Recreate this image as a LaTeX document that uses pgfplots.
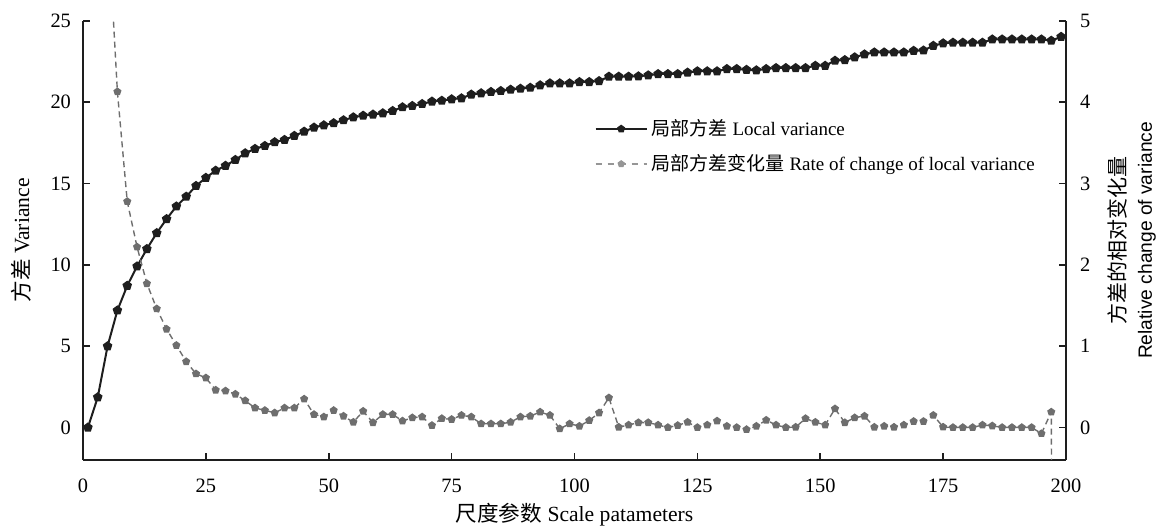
\documentclass[border=0pt]{standalone}
\usepackage{fontspec}
\setmainfont{Liberation Serif}
\setsansfont{Liberation Sans}
\newfontfamily\cjk{Noto Sans CJK SC}
\usepackage{pgfplots}
\pgfplotsset{compat=1.18}
\pgfdeclareplotmark{pent}{%
  \pgfpathmoveto{\pgfpointpolar{90}{\pgfplotmarksize}}%
  \pgfpathlineto{\pgfpointpolar{162}{\pgfplotmarksize}}%
  \pgfpathlineto{\pgfpointpolar{234}{\pgfplotmarksize}}%
  \pgfpathlineto{\pgfpointpolar{306}{\pgfplotmarksize}}%
  \pgfpathlineto{\pgfpointpolar{18}{\pgfplotmarksize}}%
  \pgfpathclose
  \pgfusepathqfillstroke}
\definecolor{lineblack}{RGB}{30,30,30}
\definecolor{ptgray}{RGB}{110,110,110}
\definecolor{leggray}{RGB}{150,150,150}
\newcommand{\fs}{\fontsize{9.5}{11.4}\selectfont}
\newcommand{\ft}{\fontsize{10.2}{12}\selectfont}
\newcommand{\fl}{\fontsize{10.8}{13}\selectfont}
\begin{document}
\begin{tikzpicture}
\useasboundingbox (-41.5pt,-34pt) rectangle (538pt,230pt);
\pgfplotsset{
  every axis/.append style={
    scale only axis, width=491.5pt, height=219.5pt,
    xmin=0, xmax=200,
    axis line style={lineblack, line width=0.9pt},
    tick style={lineblack, line width=0.8pt},
    major tick length=3.5pt,
    tick align=inside,
    /pgf/number format/assume math mode=true,
    tick label style={font=\ft},
    label style={font=\fl},
    clip=true,
  }
}
\begin{axis}[
  axis x line*=bottom, axis y line*=left,
  ymin=-2, ymax=25,
  xtick={0,25,...,200}, ytick={0,5,...,25},
  xticklabel style={yshift=-6pt},
  yticklabel style={xshift=-2.5pt},
  xlabel={{\cjk 尺度参数} Scale patameters},
  ylabel={{\cjk 方差} Variance},
  xlabel style={yshift=1.5pt},
  ylabel style={yshift=3pt},
]
\addplot[lineblack, line width=1pt, mark=pent, mark size=1.9pt, mark options={solid, fill=lineblack, draw=lineblack}] coordinates {
(1,0) (3,1.86) (5,5.0) (7,7.2) (9,8.72) (11,9.91) (13,10.98) (15,11.96) (17,12.82) (19,13.6)
(21,14.2) (23,14.86) (25,15.36) (27,15.8) (29,16.1) (31,16.46) (33,16.87) (35,17.14) (37,17.32) (39,17.55)
(41,17.69) (43,17.94) (45,18.2) (47,18.45) (49,18.59) (51,18.72) (53,18.9) (55,19.08) (57,19.18) (59,19.25)
(61,19.33) (63,19.47) (65,19.7) (67,19.78) (69,19.9) (71,20.05) (73,20.1) (75,20.19) (77,20.25) (79,20.48)
(81,20.56) (83,20.64) (85,20.7) (87,20.78) (89,20.84) (91,20.9) (93,21.05) (95,21.17) (97,21.17) (99,21.17)
(101,21.25) (103,21.25) (105,21.31) (107,21.58) (109,21.58) (111,21.58) (113,21.6) (115,21.66) (117,21.74) (119,21.74)
(121,21.74) (123,21.83) (125,21.91) (127,21.91) (129,21.91) (131,22.05) (133,22.05) (135,22.0) (137,21.97) (139,22.05)
(141,22.11) (143,22.11) (145,22.11) (147,22.11) (149,22.25) (151,22.25) (153,22.56) (155,22.6) (157,22.77) (159,22.95)
(161,23.07) (163,23.07) (165,23.07) (167,23.07) (169,23.17) (171,23.19) (173,23.48) (175,23.63) (177,23.67) (179,23.67)
(181,23.67) (183,23.67) (185,23.87) (187,23.87) (189,23.87) (191,23.87) (193,23.87) (195,23.87) (197,23.79) (199,24.03)
};
\end{axis}
\begin{axis}[
  axis x line=none, axis y line*=right,
  ymin=-0.4, ymax=5,
  ytick={0,1,...,5},
  yticklabel style={xshift=3.5pt},
  ylabel={{\cjk\fontsize{10.5}{12.5}\selectfont 方差的相对变化量}\\{\sffamily\fontsize{9.6}{12.5}\selectfont Relative change of variance}},
  ylabel style={align=center, yshift=-2pt},
  legend style={at={(rel axis cs:0.520,0.786)}, anchor=north west, draw=none, fill=none,
    inner sep=0pt, row sep=4pt, font=\fs, cells={anchor=west}},
  legend cell align=left,
  legend image code/.code={
    \draw[mark repeat=2,mark phase=2,#1] plot coordinates {(0cm,0cm) (0.45cm,0cm) (0.9cm,0cm)};
  },
]
\addlegendimage{lineblack, line width=1pt, mark=pent, mark size=1.5pt, mark options={solid, fill=lineblack}}
\addlegendentry{{\cjk 局部方差} Local variance}
\addlegendimage{leggray, dashed, line width=0.7pt, mark=pent, mark size=1.5pt, mark options={solid, fill=leggray, draw=leggray}}
\addlegendentry{{\cjk 局部方差变化量} Rate of change of local variance}
\addplot[forget plot, ptgray, line width=0.7pt, dash pattern=on 3pt off 2pt, mark=pent, mark size=1.7pt, mark options={solid, fill=ptgray, draw=ptgray}] coordinates {
(3,12) (5,6.3) (7,4.13) (9,2.78) (11,2.22) (13,1.77) (15,1.46) (17,1.21) (19,1.01)
(21,0.81) (23,0.66) (25,0.61) (27,0.46) (29,0.45) (31,0.41) (33,0.33) (35,0.24) (37,0.21) (39,0.18)
(41,0.24) (43,0.24) (45,0.35) (47,0.16) (49,0.13) (51,0.21) (53,0.14) (55,0.065) (57,0.2) (59,0.06)
(61,0.16) (63,0.16) (65,0.08) (67,0.12) (69,0.13) (71,0.025) (73,0.11) (75,0.10) (77,0.15) (79,0.13)
(81,0.045) (83,0.045) (85,0.045) (87,0.065) (89,0.13) (91,0.14) (93,0.19) (95,0.15) (97,-0.016) (99,0.045)
(101,0.016) (103,0.086) (105,0.18) (107,0.365) (109,0.004) (111,0.03) (113,0.06) (115,0.06) (117,0.03) (119,0.0)
(121,0.025) (123,0.065) (125,0.0) (127,0.03) (129,0.08) (131,0.016) (133,0.0) (135,-0.025) (137,0.016) (139,0.09)
(141,0.03) (143,0.0) (145,0.004) (147,0.11) (149,0.065) (151,0.03) (153,0.23) (155,0.06) (157,0.12) (159,0.14)
(161,0.004) (163,0.016) (165,0.004) (167,0.03) (169,0.075) (171,0.075) (173,0.15) (175,0.005) (177,0.0) (179,0.0)
(181,0.0) (183,0.03) (185,0.02) (187,0.0) (189,0.0) (191,0.0) (193,0.0) (195,-0.075) (197,0.19) (199,-25)
};
\end{axis}
\end{tikzpicture}
\end{document}
